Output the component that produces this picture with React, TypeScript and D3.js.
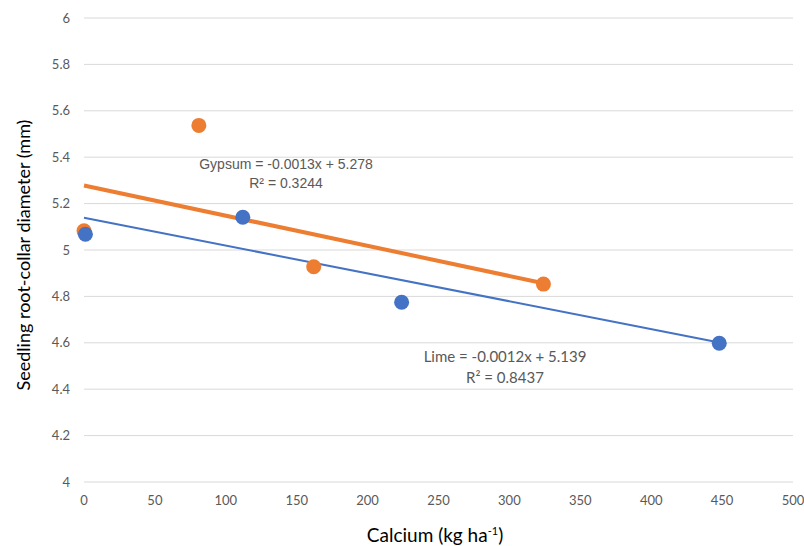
import React, { useRef, useEffect } from 'react';
import * as d3 from 'd3';

// scatter data
const gypsumX = [0, 81, 162, 324];
const gypsumY = [5.083, 5.537, 4.928, 4.853];
const limeX = [1, 112, 224, 448];
const limeY = [5.068, 5.141, 4.775, 4.598];

// trendline coefficients as labelled
const gypsumSlope = -0.0013;
const gypsumIntercept = 5.278;
const limeSlope = -0.0012;
const limeIntercept = 5.139;

const xTicks = [0, 50, 100, 150, 200, 250, 300, 350, 400, 450, 500];
const yTicks = [4, 4.2, 4.4, 4.6, 4.8, 5, 5.2, 5.4, 5.6, 5.8, 6];

const gypsumLabel = ['Gypsum = -0.0013x + 5.278', 'R² = 0.3244'];
const limeLabel = ['Lime = -0.0012x + 5.139', 'R² = 0.8437'];

const w = 804;
const h = 546;
const margin = { top: 18, right: 11, bottom: 64, left: 84 };

const App = () => {
  const svgRef = useRef<SVGSVGElement>(null);

  useEffect(() => {
    const svg = d3.select(svgRef.current);
    svg.selectAll('*').remove();

    const x = d3.scaleLinear().domain([0, 500]).range([margin.left, w - margin.right]);
    const y = d3.scaleLinear().domain([4, 6]).range([h - margin.bottom, margin.top]);

    const tickFont = 'Lato, "Open Sans", sans-serif';

    // gridlines
    svg.append('g')
      .selectAll('line')
      .data(yTicks)
      .enter()
      .append('line')
      .attr('x1', x(0))
      .attr('x2', x(500))
      .attr('y1', d => y(d))
      .attr('y2', d => y(d))
      .attr('stroke', '#d9d9d9')
      .attr('stroke-width', 1);

    // y tick labels
    svg.append('g')
      .selectAll('text')
      .data(yTicks)
      .enter()
      .append('text')
      .attr('x', margin.left - 14)
      .attr('y', d => y(d))
      .attr('dy', '0.35em')
      .attr('text-anchor', 'end')
      .attr('font-family', tickFont)
      .attr('font-size', 13)
      .attr('fill', '#595959')
      .text(d => d3.format('~g')(d));

    // x tick labels
    svg.append('g')
      .selectAll('text')
      .data(xTicks)
      .enter()
      .append('text')
      .attr('x', d => x(d))
      .attr('y', h - margin.bottom + 18)
      .attr('dy', '0.35em')
      .attr('text-anchor', 'middle')
      .attr('font-family', tickFont)
      .attr('font-size', 13)
      .attr('fill', '#595959')
      .text(d => d);

    // axis titles
    svg.append('text')
      .attr('transform', `translate(30, ${(margin.top + h - margin.bottom) / 2 + 5}) rotate(-90)`)
      .attr('text-anchor', 'middle')
      .attr('font-family', tickFont)
      .attr('font-size', 18)
      .attr('fill', '#000')
      .text('Seedling root-collar diameter (mm)');

    const xTitle = svg.append('text')
      .attr('x', 435)
      .attr('y', 542)
      .attr('text-anchor', 'middle')
      .attr('font-family', tickFont)
      .attr('font-size', 19)
      .attr('fill', '#000');
    xTitle.append('tspan').text('Calcium (kg ha');
    xTitle.append('tspan').attr('font-size', 11).attr('dy', -7).text('-1');
    xTitle.append('tspan').attr('dy', 7).text(')');

    const line = d3.line<[number, number]>().x(d => x(d[0])).y(d => y(d[1]));

    // trendlines
    const gypMax = d3.max(gypsumX) as number;
    svg.append('path')
      .attr('d', line([[0, gypsumIntercept], [gypMax, gypsumIntercept + gypsumSlope * gypMax]]))
      .attr('stroke', '#ED7D31')
      .attr('stroke-width', 4)
      .attr('fill', 'none');

    const limeMax = d3.max(limeX) as number;
    svg.append('path')
      .attr('d', line([[0, limeIntercept], [limeMax, limeIntercept + limeSlope * limeMax]]))
      .attr('stroke', '#4472C4')
      .attr('stroke-width', 2)
      .attr('fill', 'none');

    // points
    svg.append('g')
      .selectAll('circle')
      .data(gypsumX)
      .enter()
      .append('circle')
      .attr('cx', d => x(d))
      .attr('cy', (d, i) => y(gypsumY[i]))
      .attr('r', 7.5)
      .attr('fill', '#ED7D31');

    svg.append('g')
      .selectAll('circle')
      .data(limeX)
      .enter()
      .append('circle')
      .attr('cx', d => x(d))
      .attr('cy', (d, i) => y(limeY[i]))
      .attr('r', 7.5)
      .attr('fill', '#4472C4');

    // equation labels
    svg.append('g')
      .selectAll('text')
      .data(gypsumLabel)
      .enter()
      .append('text')
      .attr('x', 286)
      .attr('y', (d, i) => 164 + i * 19)
      .attr('dy', '0.35em')
      .attr('text-anchor', 'middle')
      .attr('font-family', '"Liberation Sans", Arial, sans-serif')
      .attr('font-size', 14)
      .attr('fill', '#595959')
      .text(d => d);

    svg.append('g')
      .selectAll('text')
      .data(limeLabel)
      .enter()
      .append('text')
      .attr('x', 505)
      .attr('y', (d, i) => 357 + i * 21)
      .attr('dy', '0.35em')
      .attr('text-anchor', 'middle')
      .attr('font-family', tickFont)
      .attr('font-size', 15)
      .attr('fill', '#595959')
      .text(d => d);
  }, []);

  return (
    <svg ref={svgRef} width={w} height={h}
      style={{ position: 'absolute', left: 0, top: 0, background: '#fff' }} />
  );
};

export default App;
